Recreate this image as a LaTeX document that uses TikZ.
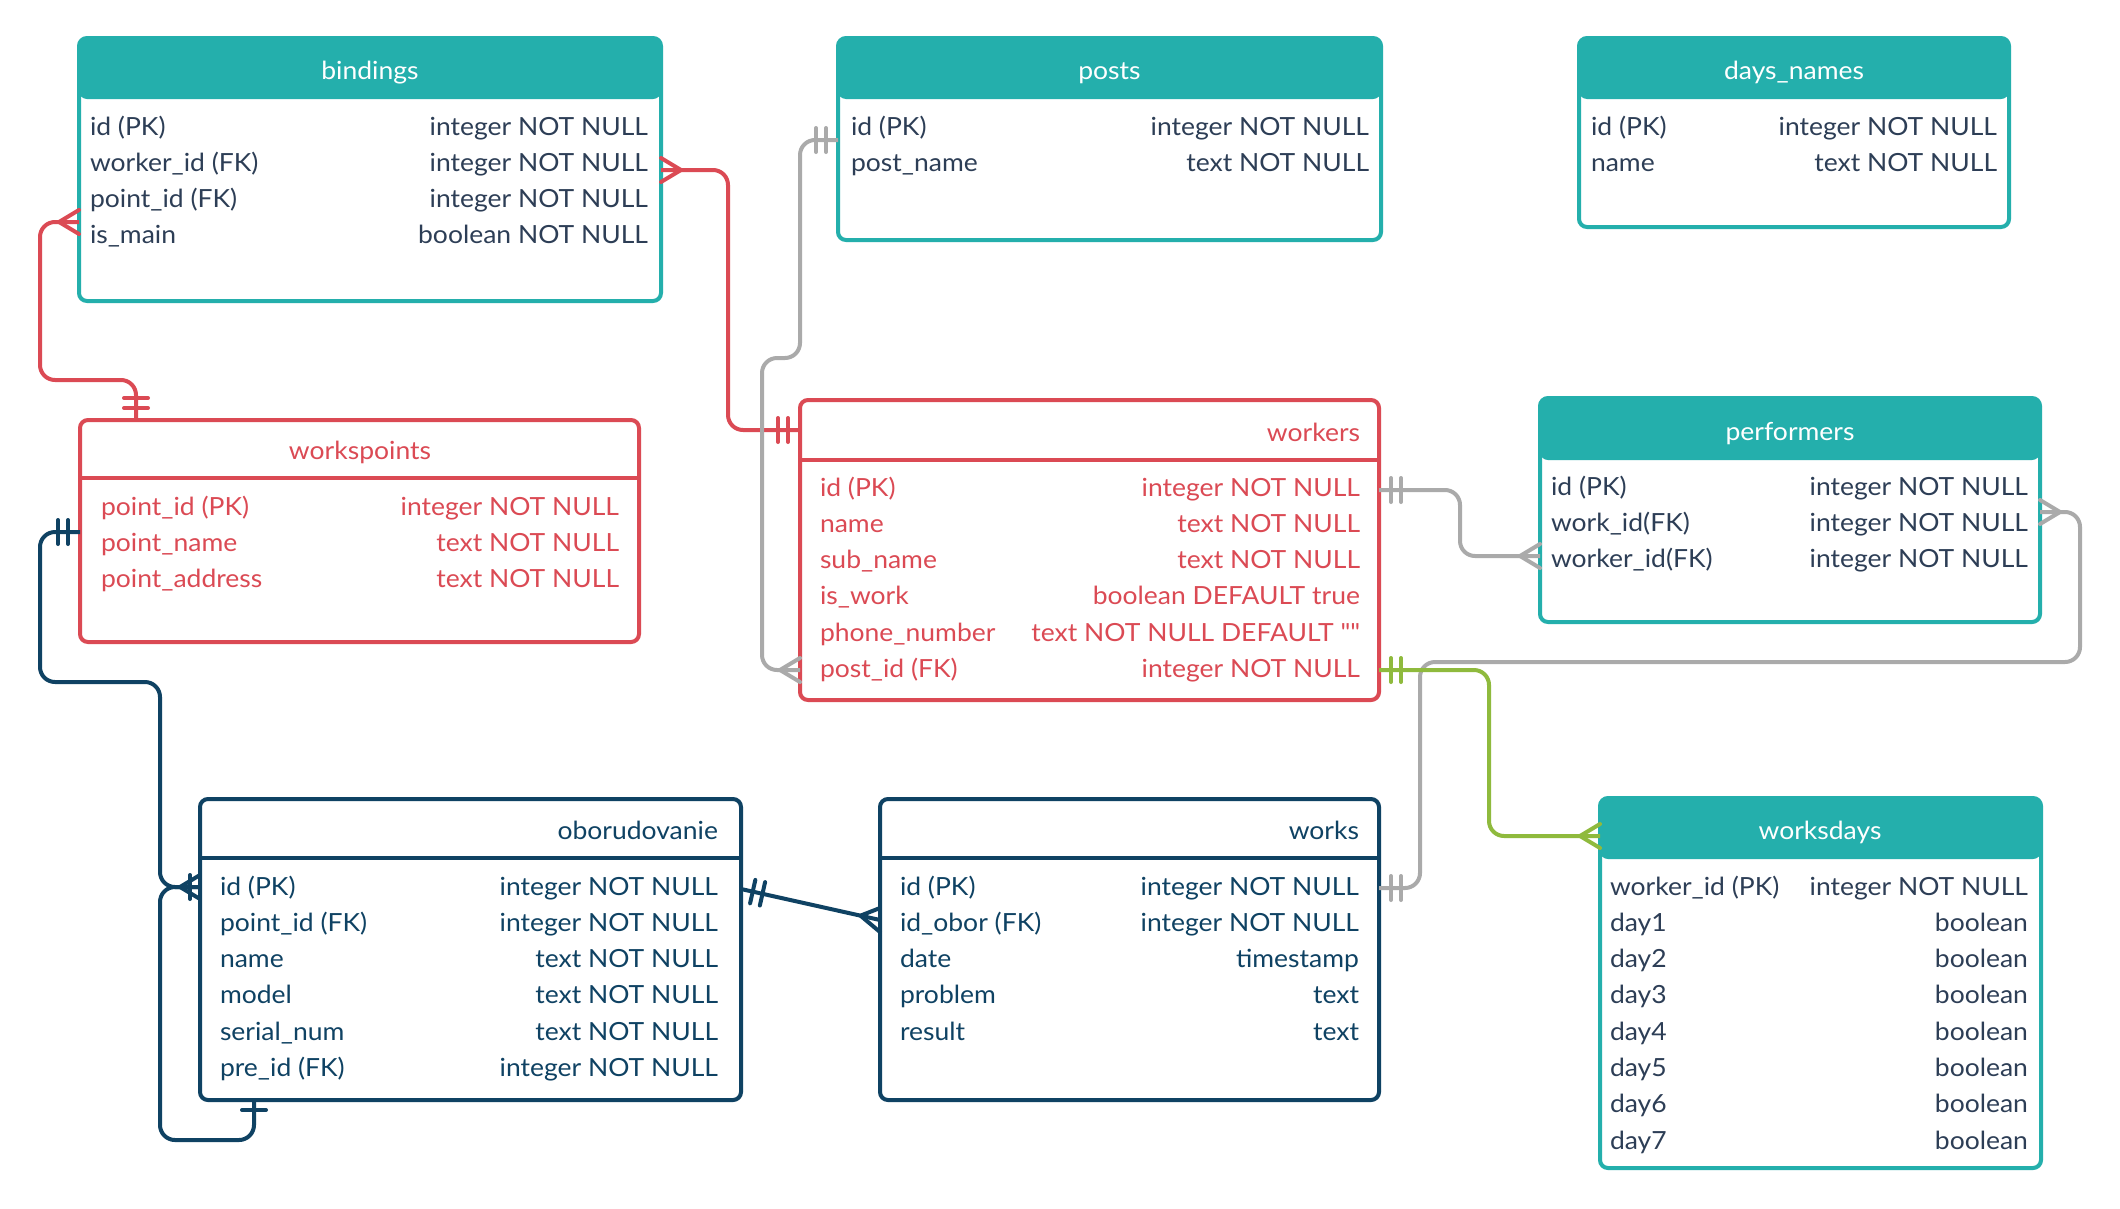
\documentclass[tikz,border=0pt]{standalone}
\usepackage{fontspec}
\setmainfont{Lato}[FakeStretch=1.06]
% same face without TeX ligatures, so " stays a straight quote
\newfontface\plainquote{Lato}[FakeStretch=1.06]
\usetikzlibrary{calc}

\definecolor{erteal}{HTML}{24AFAC}
\definecolor{erred}{HTML}{DB4A54}
\definecolor{ernavy}{HTML}{0F4263}
\definecolor{erink}{HTML}{2D3E56}
\definecolor{ergrey}{HTML}{AAAAAA}
\definecolor{ergreen}{HTML}{8FBA3D}

\tikzset{
  tablebox/.style={rectangle, rounded corners=8pt, line width=4pt, outer sep=0pt,
    inner sep=0pt, fill=white, anchor=north west},
  tealhead/.style={draw=erteal, path picture={\fill[erteal]
    (path picture bounding box.north west) rectangle
    ([yshift=-#1]path picture bounding box.north east);}},
  field/.style={inner sep=0pt, outer sep=0pt, font=\fontsize{25}{30}\selectfont},
  link/.style={line width=4pt, rounded corners=15pt},
  markline/.style={line width=4pt, line cap=round, line join=round},
  crowfoot/.pic={\draw[markline] (0,-12) -- (20,0) -- (0,12);},
  crowbar/.pic={\draw[markline] (0,-12) -- (20,0) -- (0,12); \draw[markline] (10,-12) -- (10,12);},
  twobar/.pic={\draw[markline] (12,-12) -- (12,12) (22,-12) -- (22,12);},
  onebar/.pic={\draw[markline] (10,-12) -- (10,12);},
}

% field rows of a table: name, left x, right x, first baseline, colour, list
\newcommand\fieldrows[6]{%
  \foreach \k/\t [count=\i] in {#6}{
    \node[field, text=#5, anchor=base west] (#1-k\i) at (#2,{#4+36.3*(\i-1)}) {\k};
    \node[field, text=#5, anchor=base east] (#1-t\i) at (#3,{#4+36.3*(\i-1)}) {\t};
  }}

\begin{document}
\begin{tikzpicture}[x=1pt,y=-1pt]
\fill[white] (0,0) rectangle (2120,1208);
\useasboundingbox (0,0) rectangle (2120,1208);

% ---------- tables ----------
% bindings
\node[tablebox, tealhead=61pt, minimum width=582pt, minimum height=263pt] (bindings) at (79,38) {};
\node[field, text=white, anchor=base] (bindings-title) at (370,79) {bindings};
\fieldrows{bindings}{90}{648}{135}{erink}{id (PK)/integer NOT NULL, worker\_id (FK)/integer NOT NULL,
  point\_id (FK)/integer NOT NULL, is\_main/boolean NOT NULL}

% posts
\node[tablebox, tealhead=61pt, minimum width=543pt, minimum height=202pt] (posts) at (838,38) {};
\node[field, text=white, anchor=base] (posts-title) at (1109.5,79) {posts};
\fieldrows{posts}{851}{1369}{135}{erink}{id (PK)/integer NOT NULL, post\_name/text NOT NULL}

% days_names
\node[tablebox, tealhead=61pt, minimum width=430pt, minimum height=189pt] (days) at (1579,38) {};
\node[field, text=white, anchor=base] (days-title) at (1794,79) {days\_names};
\fieldrows{days}{1591}{1997}{135}{erink}{id (PK)/integer NOT NULL, name/text NOT NULL}

% workspoints
\node[tablebox, draw=erred, minimum width=559pt, minimum height=222pt] (workspoints) at (80,420) {};
\draw[erred, line width=4pt] (workspoints.west |- 0,478) -- (workspoints.east |- 0,478);
\node[field, text=erred, anchor=base] (workspoints-title) at (360,459) {workspoints};
\fieldrows{workspoints}{101}{619}{515}{erred}{point\_id (PK)/integer NOT NULL,
  point\_name/text NOT NULL, point\_address/text NOT NULL}

% workers
\node[tablebox, draw=erred, minimum width=579pt, minimum height=300pt] (workers) at (800,400) {};
\draw[erred, line width=4pt] (workers.west |- 0,460) -- (workers.east |- 0,460);
\node[field, text=erred, anchor=base east] (workers-title) at (1360,441) {workers};
\fieldrows{workers}{820}{1360}{496}{erred}{id (PK)/integer NOT NULL, name/text NOT NULL,
  sub\_name/text NOT NULL, is\_work/boolean DEFAULT true,
  phone\_number/text NOT NULL DEFAULT {\plainquote""}, post\_id (FK)/integer NOT NULL}

% performers
\node[tablebox, tealhead=62pt, minimum width=500pt, minimum height=224pt] (performers) at (1540,398) {};
\node[field, text=white, anchor=base] (performers-title) at (1790,440) {performers};
\fieldrows{performers}{1551}{2028}{495}{erink}{id (PK)/integer NOT NULL,
  work\_id(FK)/integer NOT NULL, worker\_id(FK)/integer NOT NULL}

% oborudovanie
\node[tablebox, draw=ernavy, minimum width=541pt, minimum height=301pt] (obor) at (200,799) {};
\draw[ernavy, line width=4pt] (obor.west |- 0,858) -- (obor.east |- 0,858);
\node[field, text=ernavy, anchor=base east] (obor-title) at (718,839) {oborudovanie};
\fieldrows{obor}{220}{718}{895}{ernavy}{id (PK)/integer NOT NULL, point\_id (FK)/integer NOT NULL,
  name/text NOT NULL, model/text NOT NULL, serial\_num/text NOT NULL, pre\_id (FK)/integer NOT NULL}

% works
\node[tablebox, draw=ernavy, minimum width=499pt, minimum height=301pt] (works) at (880,799) {};
\draw[ernavy, line width=4pt] (works.west |- 0,858) -- (works.east |- 0,858);
\node[field, text=ernavy, anchor=base east] (works-title) at (1359,839) {works};
\fieldrows{works}{900}{1359}{895}{ernavy}{id (PK)/integer NOT NULL, id\_obor (FK)/integer NOT NULL,
  date/timestamp, problem/text, result/text}

% worksdays
\node[tablebox, tealhead=61pt, minimum width=441pt, minimum height=370pt] (worksdays) at (1600,798) {};
\node[field, text=white, anchor=base] (worksdays-title) at (1820,839) {worksdays};
\fieldrows{worksdays}{1610}{2028}{895}{erink}{worker\_id (PK)/integer NOT NULL, day1/boolean,
  day2/boolean, day3/boolean, day4/boolean, day5/boolean, day6/boolean, day7/boolean}

% ---------- relations ----------
% bindings.worker_id -> workers
\draw[link, erred] (bindings.east |- 0,170) -- (728,170) -- (728,430) -- (workers.west |- 0,430);
\pic[erred] at (bindings.east |- 0,170) {crowfoot};
\pic[erred, rotate=180] at (workers.west |- 0,430) {twobar};

% bindings.point_id -> workspoints
\draw[link, erred] (bindings.west |- 0,222) -- (40,222) -- (40,380) -- (136,380) -- (workspoints.north -| 136,0);
\pic[erred, rotate=180] at (bindings.west |- 0,222) {crowfoot};
\pic[erred, rotate=90] at (workspoints.north -| 136,0) {twobar};

% workspoints -> oborudovanie.point_id
\draw[link, ernavy] (workspoints.west |- 0,532) -- (40,532) -- (40,682) -- (160,682) -- (160,887) -- (obor.west |- 0,887);
\pic[ernavy, rotate=180] at (workspoints.west |- 0,532) {twobar};

% oborudovanie.pre_id -> oborudovanie.id
\draw[link, ernavy] (obor.south -| 254,0) -- (254,1140) -- (160,1140) -- (160,887) -- (obor.west |- 0,887);
\pic[ernavy, rotate=-90] at (obor.south -| 254,0) {onebar};
\pic[ernavy, rotate=180] at (obor.west |- 0,887) {crowbar};

% oborudovanie -> works.id_obor
\coordinate (oboredge) at (obor.east |- 0,889);
\coordinate (worksedge) at (works.west |- 0,920);
\draw[link, ernavy] (oboredge) -- (worksedge);
\pic[ernavy, rotate=-12.6] at (oboredge) {twobar};
\draw[markline, ernavy] ($(worksedge)+(0,-12)$) -- ($(worksedge)!20pt!(oboredge)$) -- ($(worksedge)+(0,12)$);

% posts -> workers.post_id
\draw[link, ergrey] (posts.west |- 0,140) -- (800,140) -- (800,358) -- (762,358) -- (762,670) -- (workers.west |- 0,670);
\pic[ergrey, rotate=180] at (posts.west |- 0,140) {twobar};
\pic[ergrey, rotate=180] at (workers.west |- 0,670) {crowfoot};

% workers -> performers.worker_id
\draw[link, ergrey] (workers.east |- 0,490) -- (1460,490) -- (1460,556) -- (performers.west |- 0,556);
\pic[ergrey] at (workers.east |- 0,490) {twobar};
\pic[ergrey, rotate=180] at (performers.west |- 0,556) {crowfoot};

% works -> performers.work_id
\draw[link, ergrey] (performers.east |- 0,512) -- (2080,512) -- (2080,662) -- (1420,662) -- (1420,888) -- (works.east |- 0,888);
\pic[ergrey] at (performers.east |- 0,512) {crowfoot};
\pic[ergrey] at (works.east |- 0,888) {twobar};

% workers -> worksdays
\draw[link, ergreen] (workers.east |- 0,670) -- (1489,670) -- (1489,836) -- (worksdays.west |- 0,836);
\pic[ergreen] at (workers.east |- 0,670) {twobar};
\pic[ergreen, rotate=180] at (worksdays.west |- 0,836) {crowfoot};
\end{tikzpicture}
\end{document}
